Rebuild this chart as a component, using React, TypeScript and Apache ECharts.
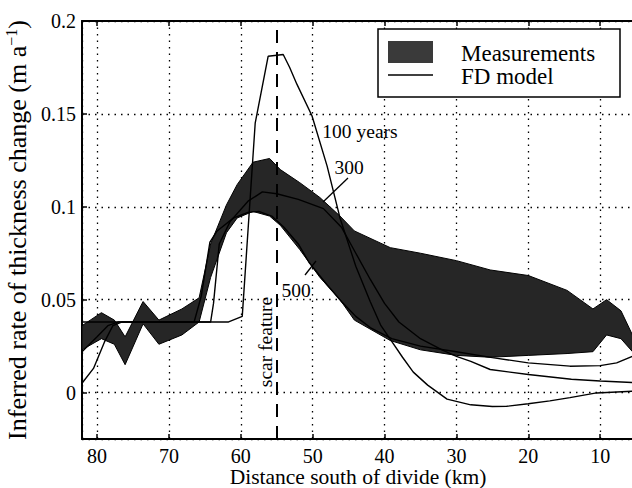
import React, { useEffect, useRef } from "react";
import * as echarts from "echarts";

// ---- Data ----
// Measurements band: distance south of divide (km), lower & upper envelope (m/a)
const bandKm = [82.1, 79.4, 77.6, 76.1, 73.6, 71.4, 68.2, 65.8, 64.2, 62.0, 60.5, 58.3, 56.0, 54.5, 51.8, 49.0, 46.2, 44.2, 39.2, 35.0, 30.0, 25.3, 20.0, 14.6, 11.0, 9.1, 7.1, 5.5];
const bandUpper = [0.036, 0.043, 0.039, 0.030, 0.049, 0.039, 0.045, 0.051, 0.080, 0.101, 0.112, 0.124, 0.126, 0.120, 0.113, 0.105, 0.095, 0.087, 0.078, 0.075, 0.071, 0.066, 0.063, 0.055, 0.045, 0.050, 0.044, 0.031];
const bandLower = [0.023, 0.029, 0.026, 0.015, 0.037, 0.026, 0.031, 0.038, 0.062, 0.086, 0.094, 0.0975, 0.095, 0.090, 0.077, 0.062, 0.050, 0.039, 0.028, 0.023, 0.020, 0.019, 0.020, 0.021, 0.022, 0.031, 0.029, 0.022];

// FD model, 100 years
const fd100Km = [82.1, 80.5, 79.0, 77.8, 76.5, 61.7, 59.8, 58.0, 56.2, 54.1, 53.2, 52.2, 50.1, 48.0, 46.2, 44.0, 42.0, 40.5, 39.0, 37.5, 36.0, 34.0, 31.3, 28.0, 25.0, 23.0, 20.0, 17.0, 14.2, 10.5, 5.5];
const fd100 = [0.005, 0.013, 0.027, 0.036, 0.038, 0.038, 0.041, 0.145, 0.181, 0.182, 0.175, 0.166, 0.149, 0.122, 0.094, 0.068, 0.049, 0.036, 0.0276, 0.019, 0.011, 0.004, -0.0035, -0.0066, -0.0075, -0.0074, -0.006, -0.0045, -0.0027, -0.0002, 0.0007];

// FD model, 300 years
const fd300Km = [82.1, 80.0, 78.5, 77.0, 64.2, 63.8, 63.0, 61.5, 59.0, 57.0, 55.0, 52.0, 48.5, 46.0, 44.0, 42.0, 40.0, 38.0, 35.0, 32.0, 30.0, 28.0, 25.3, 20.0, 14.0, 10.0, 5.5];
const fd300 = [0.022, 0.030, 0.036, 0.038, 0.038, 0.048, 0.080, 0.092, 0.103, 0.108, 0.107, 0.104, 0.099, 0.089, 0.075, 0.061, 0.048, 0.038, 0.029, 0.023, 0.0195, 0.0168, 0.0124, 0.0097, 0.0072, 0.0062, 0.0054];

// FD model, 500 years
const fd500Km = [82.1, 66.5, 65.5, 64.3, 63.3, 61.0, 59.0, 57.5, 55.7, 54.0, 52.0, 50.5, 48.0, 46.0, 44.0, 42.0, 39.0, 35.0, 30.0, 25.0, 20.0, 14.2, 10.0, 7.7, 5.5];
const fd500 = [0.038, 0.038, 0.052, 0.081, 0.087, 0.094, 0.097, 0.0975, 0.095, 0.089, 0.080, 0.070, 0.058, 0.049, 0.041, 0.035, 0.029, 0.025, 0.022, 0.0188, 0.016, 0.0142, 0.0145, 0.016, 0.0195];

const scarKm = 55;
const xTickStep = 10;
const yTickStep = 0.05;

const FONT = "'Liberation Serif', 'Times New Roman', serif";

function pairs(xs: number[], ys: number[]) {
  return xs.map((x, i) => [x, ys[i]]);
}

export default function App() {
  const ref = useRef<HTMLDivElement>(null);

  useEffect(() => {
    if (!ref.current) return;
    const chart = echarts.init(ref.current, null, { renderer: "svg" });

    const lineStyle = { color: "#000", width: 1.4 };
    const gridLine = { show: true, lineStyle: { color: "#000", width: 1.3, type: [1.5, 5] as any } };

    const xCommon = {
      type: "value" as const,
      min: 0,
      max: 82.1,
      interval: xTickStep,
      inverse: true,
    };

    const centered = { align: "center", verticalAlign: "middle", textAlign: "center", textVerticalAlign: "middle" };

    const option: any = {
      animation: false,
      backgroundColor: "#fff",
      grid: { left: 82, top: 21, right: -40, bottom: 49, show: false, containLabel: false, outerBoundsMode: "none" },
      xAxis: [
        {
          ...xCommon,
          position: "bottom",
          axisLine: { show: true, onZero: false, lineStyle: { color: "#000", width: 2 } },
          axisTick: { show: true, inside: true, length: 5, lineStyle: { color: "#000", width: 1.5 } },
          axisLabel: {
            fontFamily: FONT,
            fontSize: 20,
            lineHeight: 20,
            color: "#000",
            margin: 7,
            formatter: (v: number) =>
              v > 0 && Math.abs(v - Math.round(v / xTickStep) * xTickStep) < 1e-6 ? String(Math.round(v)) : "",
          },
          splitLine: gridLine,
        },
        {
          ...xCommon,
          position: "top",
          axisLine: { show: true, onZero: false, lineStyle: { color: "#000", width: 2 } },
          axisTick: { show: true, inside: true, length: 5, lineStyle: { color: "#000", width: 1.5 } },
          axisLabel: { show: false },
          splitLine: { show: false },
        },
      ],
      yAxis: {
        type: "value",
        min: -0.025,
        max: 0.2,
        splitNumber: 5,
        name: "{a|Inferred rate of thickness change (m a}{b|−1}{a|)}",
        nameLocation: "middle",
        nameGap: 46,
        nameRotate: 90,
        nameTextStyle: {
          fontFamily: FONT,
          color: "#000",
          rich: {
            a: { fontFamily: FONT, fontSize: 26, color: "#000", lineHeight: 28 },
            b: { fontFamily: FONT, fontSize: 16, color: "#000", lineHeight: 28, verticalAlign: "top", padding: [0, 0, 10, 0] },
          },
        },
        axisLine: { show: true, onZero: false, lineStyle: { color: "#000", width: 2 } },
        axisTick: { show: true, inside: true, length: 5, lineStyle: { color: "#000", width: 1.5 } },
        axisLabel: {
          fontFamily: FONT,
          fontSize: 20,
          color: "#000",
          margin: 6,
          formatter: (v: number) => {
            const r = Math.round(v / yTickStep) * yTickStep;
            if (Math.abs(v - r) > 1e-9 || v < -1e-9) return "";
            return String(+v.toFixed(2));
          },
        },
        splitLine: gridLine,
      },
      series: [
        {
          type: "custom",
          name: "Measurements",
          coordinateSystem: "cartesian2d",
          xAxisIndex: 0,
          clip: true,
          z: 2,
          data: bandKm.map((k, i) => [k, bandLower[i], bandUpper[i]]),
          encode: { x: 0, y: [1, 2] },
          renderItem: (params: any, api: any) => {
            if (params.dataIndex !== 0) return null;
            const pts: number[][] = [];
            for (let i = 0; i < bandKm.length; i++) pts.push(api.coord([bandKm[i], bandUpper[i]]));
            for (let i = bandKm.length - 1; i >= 0; i--) pts.push(api.coord([bandKm[i], bandLower[i]]));
            return {
              type: "polygon",
              shape: { points: pts },
              style: { fill: "#262626", stroke: "#000", lineWidth: 1 },
            };
          },
        },
        {
          type: "line",
          name: "FD model",
          xAxisIndex: 0,
          data: pairs(fd100Km, fd100),
          symbol: "none",
          lineStyle,
          z: 3,
          markLine: {
            silent: true,
            symbol: ["none", "none"],
            label: { show: false },
            lineStyle: { color: "#000", width: 2, type: [13, 9] as any },
            data: [{ xAxis: scarKm }],
          },
        },
        { type: "line", name: "FD model", xAxisIndex: 0, data: pairs(fd300Km, fd300), symbol: "none", lineStyle, z: 3 },
        { type: "line", name: "FD model", xAxisIndex: 0, data: pairs(fd500Km, fd500), symbol: "none", lineStyle, z: 3 },
      ],
      graphic: [
        // x-axis title
        { type: "text", x: 358, y: 477, z: 11, style: { text: "Distance south of divide (km)", fontFamily: FONT, fontSize: 21.5, lineHeight: 21, fill: "#000", ...centered } },
        // legend
        { type: "rect", shape: { x: 378, y: 29, width: 242, height: 68 }, style: { fill: "#fff", stroke: "#000", lineWidth: 1.5 }, z: 10 },
        { type: "rect", shape: { x: 388, y: 41, width: 45, height: 22 }, style: { fill: "#3a3a3a" }, z: 11 },
        { type: "line", shape: { x1: 388, y1: 75, x2: 433, y2: 75 }, style: { stroke: "#000", lineWidth: 1.4 }, z: 11 },
        { type: "text", x: 461, y: 53, z: 11, style: { text: "Measurements", fontFamily: FONT, fontSize: 23, fill: "#000", align: "left", verticalAlign: "middle", textAlign: "left", textVerticalAlign: "middle" } },
        { type: "text", x: 461, y: 76, z: 11, style: { text: "FD model", fontFamily: FONT, fontSize: 23, fill: "#000", align: "left", verticalAlign: "middle", textAlign: "left", textVerticalAlign: "middle" } },
        // annotations
        { type: "text", x: 360, y: 131, z: 11, style: { text: "100 years", fontFamily: FONT, fontSize: 19.5, fill: "#000", ...centered } },
        { type: "text", x: 349, y: 167, z: 11, style: { text: "300", fontFamily: FONT, fontSize: 19.5, fill: "#000", ...centered } },
        { type: "line", shape: { x1: 348, y1: 178, x2: 323, y2: 202 }, style: { stroke: "#000", lineWidth: 1.3 }, z: 11 },
        { type: "text", x: 296, y: 290, z: 11, style: { text: "500", fontFamily: FONT, fontSize: 19.5, fill: "#000", ...centered } },
        { type: "line", shape: { x1: 305, y1: 275, x2: 316, y2: 261 }, style: { stroke: "#000", lineWidth: 1.3 }, z: 11 },
        { type: "text", x: 265, y: 342, rotation: Math.PI / 2, z: 11, style: { text: "scar feature", fontFamily: FONT, fontSize: 19.5, fill: "#000", ...centered } },
      ],
    };

    chart.setOption(option);
    return () => chart.dispose();
  }, []);

  return (
    <div
      ref={ref}
      style={{ position: "fixed", left: 0, top: 0, width: 632, height: 488, background: "#fff" }}
    />
  );
}
